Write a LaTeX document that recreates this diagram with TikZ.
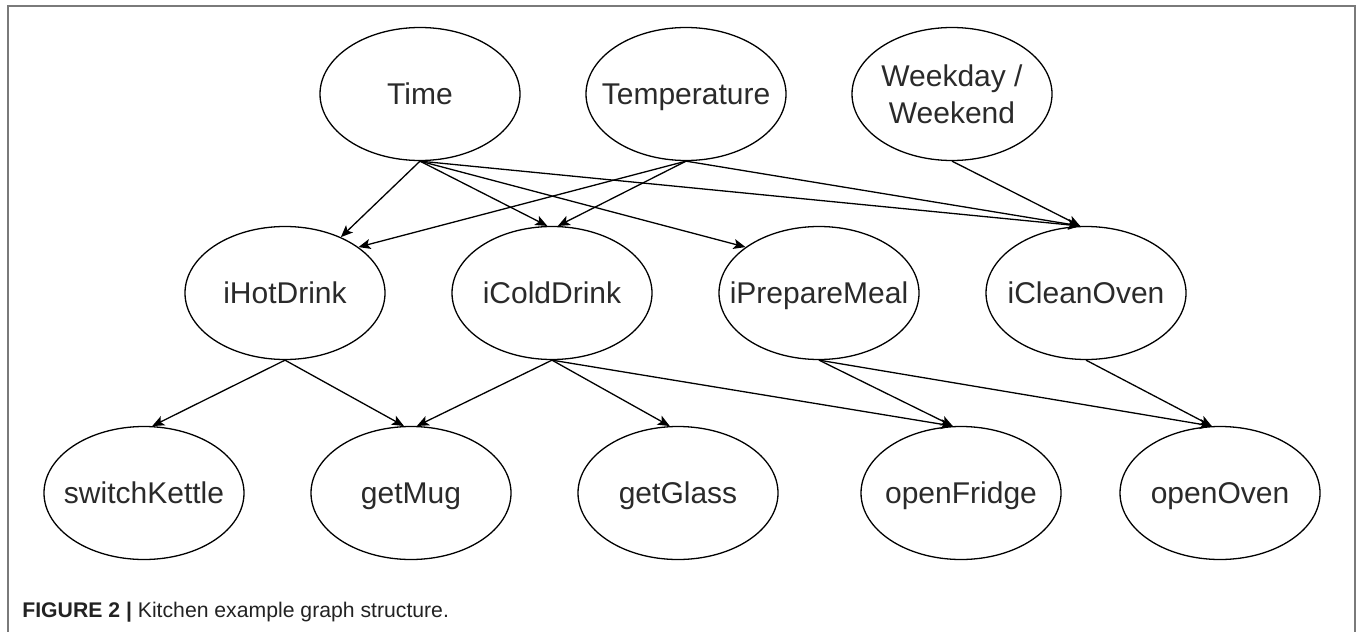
\documentclass[tikz,border=0pt]{standalone}
\usepackage{fontspec}
\setmainfont{Liberation Sans}
\usetikzlibrary{arrows.meta, shapes.geometric}
\definecolor{g}{HTML}{2a2a2a}
\definecolor{b}{HTML}{222222}
\definecolor{fr}{HTML}{7a7a7a}

\begin{document}
\begin{tikzpicture}[x=0.5pt, y=-0.5pt,
		ev/.style={draw=black, line width=0.65pt, ellipse, minimum width=100pt, minimum height=66.5pt, inner sep=0pt},
		every label/.style={text=g, font=\fontsize{15}{18.5}\selectfont, align=center, inner sep=0pt, text height=10.7pt, text depth=0pt},
		link/.style={draw=black, line width=0.65pt, -{Stealth[length=6pt, width=5pt, inset=1.4pt]}}]
				\useasboundingbox (0,0) rectangle (1358,631);
				\draw[draw=fr, line width=1pt] (7.5,640) -- (7.5,6.5) -- (1355,6.5) -- (1355,640);
				
				% context
				\node[ev, label=center:Time] (time) at (420,94) {};
				\node[ev, label=center:Temperature] (temp) at (686,94) {};
				\node[ev, label={[text height=, text depth=]center:Weekday /\\Weekend}] (week) at (952,94) {};
				
				% intentions
				\node[ev, label=center:iHotDrink] (hot) at (285,293) {};
				\node[ev, label=center:iColdDrink] (cold) at (552,293) {};
				\node[ev, label=center:iPrepareMeal] (meal) at (819,293) {};
				\node[ev, label=center:iCleanOven] (clean) at (1086,293) {};
				
				% actions
				\node[ev, label=center:switchKettle] (kettle) at (144,493) {};
				\node[ev, label=center:getMug] (mug) at (411,493) {};
				\node[ev, label=center:getGlass] (glass) at (678,493) {};
				\node[ev, label=center:openFridge] (fridge) at (961,493) {};
				\node[ev, label=center:openOven] (oven) at (1220,493) {};
				
				\draw[link] (time.south) -- (hot.45);
				\draw[link] (temp.south) -- (hot.32);
				\draw[link] (time.south) -- (cold.94);
				\draw[link] (temp.south) -- (cold.85);
				\draw[link] (time.south) -- (meal.148);
				\draw[link] (time.south) -- (clean.95);
				\draw[link] (temp.south) -- (clean.95);
				\draw[link] (week.south) -- (clean.95);
				
				\draw[link] (hot.south) -- (kettle.83);
				\draw[link] (hot.south) -- (mug.96);
				\draw[link] (cold.south) -- (mug.85);
				\draw[link] (cold.south) -- (glass.97);
				\draw[link] (cold.south) -- (fridge.97);
				\draw[link] (meal.south) -- (fridge.97);
				\draw[link] (meal.south) -- (oven.97);
				\draw[link] (clean.south) -- (oven.97);
				
				\node[anchor=base west, inner sep=0pt, text=b, font=\fontsize{10.6}{12}\selectfont] (cap) at (22,617) {\textbf{FIGURE 2 |} Kitchen example graph structure.};
			\end{tikzpicture}
\end{document}
